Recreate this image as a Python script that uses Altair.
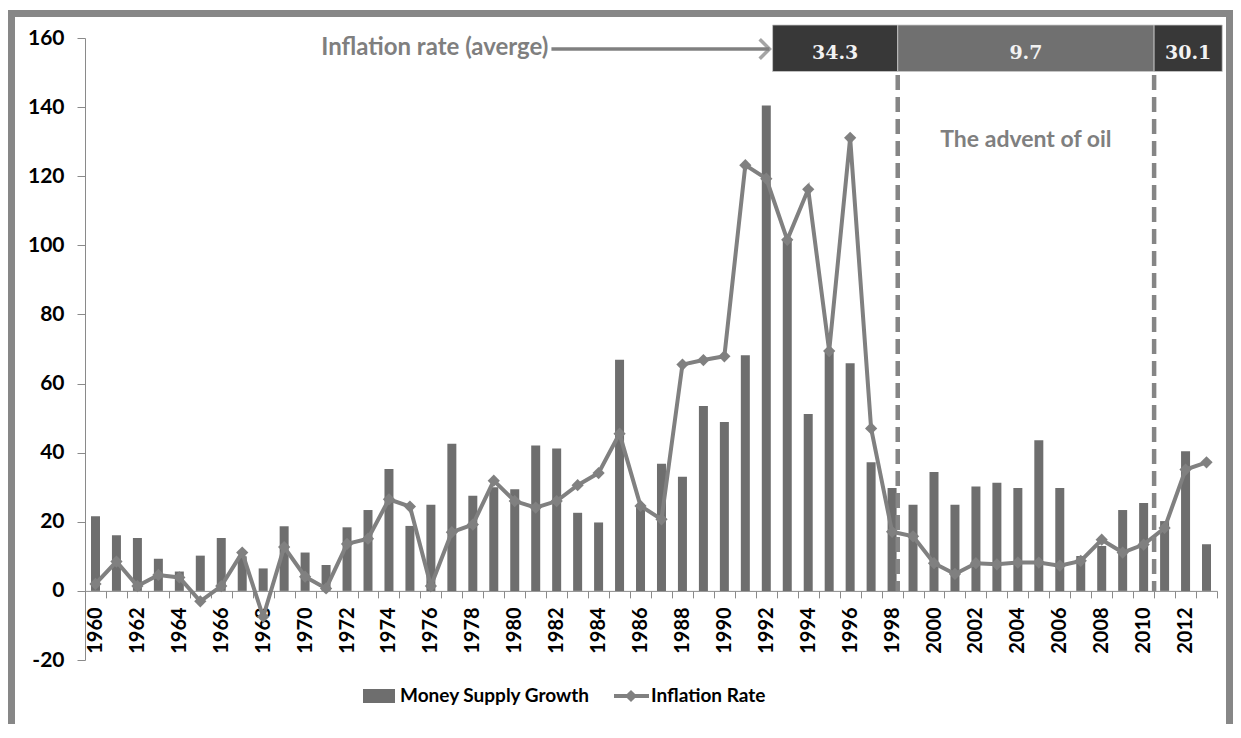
import altair as alt
import pandas as pd

# ---------------- data ----------------
years = list(range(1960, 2014))
money_supply_growth = [
    21.6, 16.1, 15.3, 9.3, 5.6, 10.2, 15.3, 10.0, 6.5, 18.7,
    11.1, 7.5, 18.4, 23.4, 35.3, 18.8, 24.9, 42.6, 27.5, 30.0,
    29.4, 42.1, 41.2, 22.6, 19.8, 66.9, 25.0, 36.8, 33.0, 53.5,
    48.9, 68.2, 140.5, 102.0, 51.2, 69.0, 65.9, 37.2, 29.8, 24.9,
    34.4, 24.9, 30.2, 31.3, 29.8, 43.6, 29.8, 10.1, 13.0, 23.4,
    25.4, 20.2, 40.4, 13.5,
]
inflation_rate = [
    2.0, 8.5, 1.4, 4.6, 3.9, -3.0, 1.4, 11.1, -7.5, 12.7,
    4.1, 0.7, 13.6, 15.1, 26.5, 24.4, 1.4, 17.0, 19.2, 31.9,
    26.0, 24.1, 26.0, 30.6, 34.1, 45.5, 24.6, 20.7, 65.5, 66.8,
    67.9, 123.2, 119.3, 101.6, 116.2, 69.4, 131.1, 47.0, 17.1, 15.8,
    8.0, 4.9, 8.0, 7.7, 8.2, 8.2, 7.3, 8.7, 14.8, 11.1,
    13.4, 18.2, 35.1, 37.2,
]
series_names = ["Money Supply Growth", "Inflation Rate"]
period_labels = ["34.3", "9.7", "30.1"]
period_start = [1992.3, 1998.27, 2010.5]
period_end = [1998.27, 2010.5, 2013.75]
oil_marks = [1998.27, 2010.5]
arrow_span = [1981.75, 1992.15]
annotation_texts = ["Inflation rate (averge)", "The advent of oil"]
y_ticks = list(range(-20, 161, 20))

# ---------------- layout ----------------
W, H = 1132, 622
FONT = "Lato"
BAR = "#6e6e6e"
LINE = "#808080"
AX = "#8a8a8a"

df = pd.DataFrame({"year": years, "money": money_supply_growth, "infl": inflation_rate})
periods = pd.DataFrame({"label": period_labels, "start": period_start, "end": period_end})
oil = pd.DataFrame({"yr": oil_marks})
arrow = pd.DataFrame({"a": [arrow_span[0]], "b": [arrow_span[1]]})
one = pd.DataFrame({"k": [0]})

yscale = alt.Scale(domain=[-20, 160], nice=False, zero=False)
xq = alt.Scale(domain=[1959.5, 2013.5], nice=False, zero=False)
zero_px = H * 160 / 180

xband = alt.X(
    "year:O",
    scale=alt.Scale(paddingInner=0, paddingOuter=0),
    axis=alt.Axis(
        title=None, labelAngle=-90, labelOverlap=False,
        labelExpr="datum.value % 2 == 0 ? datum.label : ''",
        tickBand="extent", offset=-(H - zero_px),
        tickSize=7, tickColor=AX, domainColor=AX,
        labelFont=FONT, labelFontWeight="bold", labelFontSize=20,
        labelColor="black", labelPadding=9,
    ),
)
yaxis = alt.Axis(
    title=None, values=y_ticks, grid=False, tickSize=8, tickColor=AX,
    domainColor=AX, labelFont=FONT, labelFontWeight="bold", labelFontSize=21,
    labelColor="black", labelPadding=13,
    labelExpr="datum.value < 0 ? '-' + abs(datum.value) : datum.label",
)

bars = alt.Chart(df).mark_bar(size=9, color=BAR).encode(
    x=xband, y=alt.Y("money:Q", scale=yscale, axis=yaxis)
)
line = alt.Chart(df).mark_line(
    color=LINE, strokeWidth=4,
    point=alt.OverlayMarkDef(shape="diamond", size=150, filled=True, color=LINE),
).encode(x=xband, y=alt.Y("infl:Q", scale=yscale, axis=yaxis))

base = alt.layer(bars, line)

boxes = alt.Chart(periods).mark_rect(stroke="#c8c8c8", strokeWidth=0.8).encode(
    x=alt.X("start:Q", scale=xq, axis=None),
    x2="end:Q",
    y=alt.value(-13),
    y2=alt.value(33.5),
    fill=alt.condition(alt.datum.label == "9.7", alt.value("#707070"), alt.value("#383838")),
)
box_text = alt.Chart(periods).transform_calculate(
    mid="(datum.start + datum.end) / 2"
).mark_text(font="DejaVu Serif", fontWeight="bold", fontSize=19,
            color="#f2f2f2", baseline="alphabetic").encode(
    x=alt.X("mid:Q", scale=xq, axis=None), y=alt.value(21), text="label:N"
)
dashed = alt.Chart(oil).mark_rule(strokeDash=[15, 7], strokeWidth=4.5, color="#858585").encode(
    x=alt.X("yr:Q", scale=xq, axis=None), y=alt.value(37), y2=alt.value(zero_px)
)
arrow_line = alt.Chart(arrow).mark_rule(strokeWidth=3.5, color=LINE).encode(
    x=alt.X("a:Q", scale=xq, axis=None), x2="b:Q", y=alt.value(11)
)
arrow_head = alt.Chart(arrow).mark_point(
    shape="M-1,-1L0,0L-1,1", size=380, filled=False, strokeWidth=3.5, color=LINE
).encode(x=alt.X("b:Q", scale=xq, axis=None), y=alt.value(11))
arrow_text = alt.Chart(arrow).mark_text(
    align="right", baseline="middle", dx=-3, font=FONT, fontWeight="bold",
    fontSize=24, color="#7f7f7f"
).encode(x=alt.X("a:Q", scale=xq, axis=None), y=alt.value(10),
         text=alt.value(annotation_texts[0]))
oil_text = alt.Chart(periods).transform_filter(alt.datum.label == "9.7").transform_calculate(
    mid="(datum.start + datum.end) / 2"
).mark_text(baseline="middle", font=FONT, fontWeight="bold", fontSize=23,
            color="#7f7f7f").encode(
    x=alt.X("mid:Q", scale=xq, axis=None), y=alt.value(102),
    text=alt.value(annotation_texts[1])
)

# ---------------- legend ----------------
leg_y = 658
leg_bar = alt.Chart(one).mark_rect(color=BAR).encode(
    x=alt.value(278), x2=alt.value(310), y=alt.value(leg_y - 7), y2=alt.value(leg_y + 7)
)
leg_bar_text = alt.Chart(one).mark_text(
    align="left", baseline="middle", font=FONT, fontWeight="bold", fontSize=19, color="black"
).encode(x=alt.value(315), y=alt.value(leg_y), text=alt.value(series_names[0]))
leg_line = alt.Chart(one).mark_rule(color=LINE, strokeWidth=4).encode(
    x=alt.value(529), x2=alt.value(564), y=alt.value(leg_y)
)
leg_pt = alt.Chart(one).mark_point(shape="diamond", size=150, filled=True, color=LINE, opacity=1).encode(
    x=alt.value(546), y=alt.value(leg_y)
)
leg_line_text = alt.Chart(one).mark_text(
    align="left", baseline="middle", font=FONT, fontWeight="bold", fontSize=19, color="black"
).encode(x=alt.value(566), y=alt.value(leg_y), text=alt.value(series_names[1]))

frame = alt.Chart(one).mark_rect(fillOpacity=0, stroke="#878787", strokeWidth=7).encode(
    x=alt.value(-73.5), x2=alt.value(1144.5), y=alt.value(-24.5), y2=alt.value(720)
)

chart = alt.layer(
    base, dashed, boxes, box_text, arrow_line, arrow_head, arrow_text, oil_text,
    leg_bar, leg_bar_text, leg_line, leg_pt, leg_line_text, frame,
).resolve_scale(x="independent").properties(
    width=W, height=H,
    autosize=alt.AutoSizeParams(type="none"),
    padding={"left": 77, "top": 30, "right": 16, "bottom": 64},
    background="white",
).configure_view(stroke=None)

chart.save("out.html", embed_options={"renderer": "svg", "actions": False})
